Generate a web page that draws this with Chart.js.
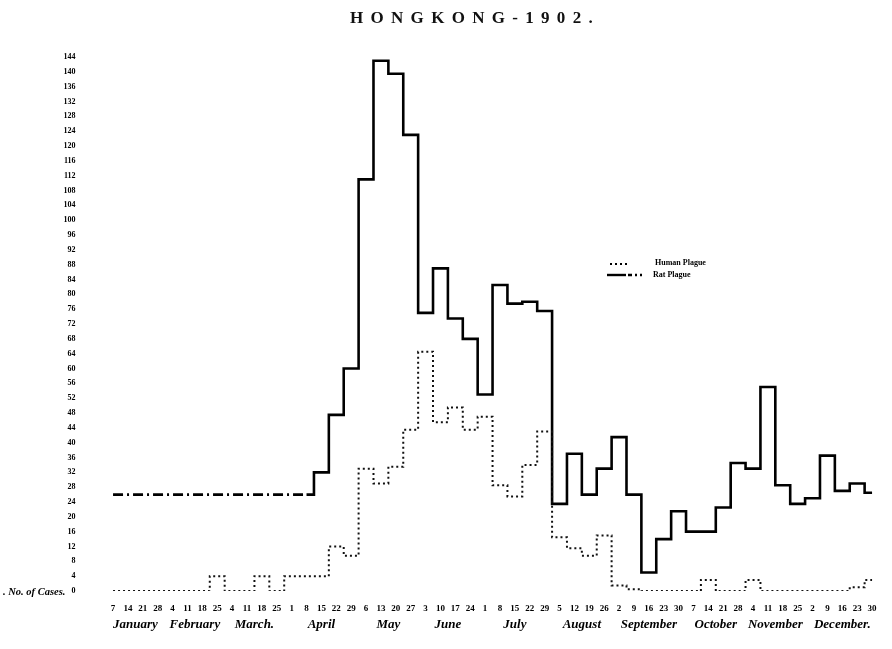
<!DOCTYPE html>
<html>
<head>
<meta charset="utf-8">
<title>Hongkong 1902</title>
<script src="https://cdn.jsdelivr.net/npm/chart.js@4.4.1/dist/chart.umd.min.js"></script>
<style>
  body { margin: 0; background: #fff; overflow: hidden; }
  #wrap { position: relative; width: 892px; height: 649px; }
  #title {
    position: absolute; top: 8px; left: 350px;
    font: bold 17px 'Liberation Serif', serif; letter-spacing: 7.3px; color: #111;
  }
</style>
</head>
<body>
<div id="wrap">
  <div id="title">HONGKONG-1902.</div>
  <canvas id="chart" width="892" height="649"></canvas>
</div>
<script>
var weekLabels = [
  "7", "14", "21", "28",
  "4", "11", "18", "25",
  "4", "11", "18", "25",
  "1", "8", "15", "22", "29",
  "6", "13", "20", "27",
  "3", "10", "17", "24",
  "1", "8", "15", "22", "29",
  "5", "12", "19", "26",
  "2", "9", "16", "23", "30",
  "7", "14", "21", "28",
  "4", "11", "18", "25",
  "2", "9", "16", "23", "30"
];
var monthNames = ["January", "February", "March.", "April", "May", "June", "July",
                  "August", "September", "October", "November", "December."];
var weeksPerMonth = [4, 4, 4, 5, 4, 4, 5, 4, 5, 4, 4, 5];

var humanPlague = [
  0, 0, 0, 0,
  0, 0, 0, 4,
  0, 0, 4, 0,
  4, 4, 4, 12, 9.5,
  33, 29, 33.5, 43.5,
  64.5, 45.5, 49.5, 43.5,
  47, 28.5, 25.5, 34, 43,
  14.5, 11.5, 9.5, 15,
  1.5, 0.5, 0, 0, 0,
  0, 3, 0, 0,
  3, 0, 0, 0,
  0, 0, 0, 1, 3
];
var ratPlague = [
  26, 26, 26, 26,
  26, 26, 26, 26,
  26, 26, 26, 26,
  26, 26, 32, 47.5, 60,
  111, 143, 139.5, 123,
  75, 87, 73.5, 68,
  53, 82.5, 77.5, 78, 75.5,
  23.5, 37, 26, 33,
  41.5, 26, 5, 14, 21.5,
  16, 16, 22.5, 34.5,
  33, 55, 28.5, 23.5,
  25, 36.5, 27, 29, 26.5
];
// rat line is drawn dash-dot up to this week (no counts yet)
var ratEstimatedUntil = 13;

Chart.defaults.font.family = "'Liberation Serif', serif";
Chart.defaults.color = "#000";

var extras = {
  id: "extras",
  afterDraw: function(chart) {
    var c = chart.ctx;
    var xs = chart.scales.x;
    var ys = chart.scales.y;
    c.save();
    c.fillStyle = "#000";

    // month names under the week dates
    c.font = "italic bold 13px 'Liberation Serif', serif";
    c.textAlign = "center";
    c.textBaseline = "middle";
    var start = 0;
    monthNames.forEach(function(name, i) {
      var end = start + weeksPerMonth[i] - 1;
      var x = (xs.getPixelForValue(start) + xs.getPixelForValue(end)) / 2;
      c.fillText(name, x, 625);
      start = end + 1;
    });

    // axis note next to the zero
    c.textAlign = "left";
    c.font = "italic bold 10.5px 'Liberation Serif', serif";
    c.fillText(". No. of Cases.", 3, ys.getPixelForValue(0) + 1);

    // legend
    c.strokeStyle = "#000";
    c.lineWidth = 2;
    c.setLineDash([2, 3]);
    c.beginPath(); c.moveTo(610, 264); c.lineTo(629, 264); c.stroke();
    c.lineWidth = 2.4;
    c.setLineDash([]);
    c.beginPath(); c.moveTo(607, 275); c.lineTo(626, 275); c.stroke();
    c.setLineDash([4, 3, 2, 3]);
    c.beginPath(); c.moveTo(628, 275); c.lineTo(642, 275); c.stroke();
    c.setLineDash([]);
    c.textAlign = "left";
    c.font = "bold 8px 'Liberation Serif', serif";
    c.fillText(chart.data.datasets[0].label, 655, 263);
    c.fillText(chart.data.datasets[1].label, 653, 275);
    c.restore();
  }
};

var chartCanvas = document.getElementById("chart").getContext("2d");

var chart = new Chart(chartCanvas, {
  type: "line",
  data: {
    labels: weekLabels,
    datasets: [
      {
        label: "Human Plague",
        data: humanPlague,
        borderColor: "#111",
        borderWidth: 2,
        borderDash: [2, 3],
        stepped: "middle",
        pointRadius: 0,
        fill: false
      },
      {
        label: "Rat Plague",
        data: ratPlague,
        borderColor: "#000",
        borderWidth: 2.6,
        stepped: "middle",
        pointRadius: 0,
        fill: false,
        segment: {
          borderDash: function(ctx) {
            return ctx.p1DataIndex <= ratEstimatedUntil ? [10, 4, 2, 4] : undefined;
          }
        }
      }
    ]
  },
  options: {
    responsive: false,
    animation: false,
    layout: { padding: { top: 57, right: 12.5, left: 0, bottom: 0 } },
    plugins: {
      legend: { display: false },
      tooltip: { enabled: false }
    },
    scales: {
      x: {
        offset: true,
        grid: { display: false, drawTicks: false },
        border: { display: false },
        ticks: {
          font: { size: 9, weight: "bold" },
          padding: 12,
          maxRotation: 0,
          autoSkip: false
        },
        afterFit: function(scale) { scale.height = 58; }
      },
      y: {
        min: 0,
        max: 144,
        grid: { display: false, drawTicks: false },
        border: { display: false },
        ticks: {
          stepSize: 4,
          font: { size: 8, weight: "bold" },
          padding: 30
        },
        afterFit: function(scale) { scale.width = 105.6; }
      }
    }
  },
  plugins: [extras]
});
</script>
</body>
</html>
